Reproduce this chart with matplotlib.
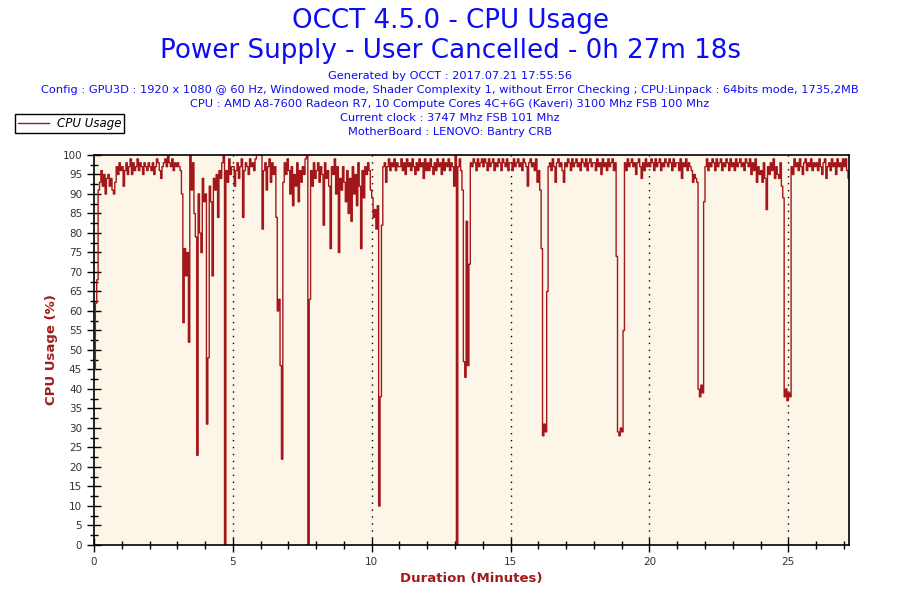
import matplotlib
matplotlib.use("Agg")
import matplotlib.pyplot as plt
from matplotlib.lines import Line2D
import numpy as np

# OCCT logs one sample per 3 s here -> 0.05 min between values
SAMPLE_MIN = 0.05

# CPU usage (%), one row per minute of the run (20 samples each)
usage_rows = [
    [45, 62, 68, 91, 93, 96, 92, 95, 90, 94, 95, 92, 94, 91, 90, 93, 97, 95, 98, 96],
    [97, 92, 96, 98, 95, 97, 99, 95, 98, 96, 97, 99, 96, 98, 97, 95, 98, 97, 96, 98],
    [97, 96, 98, 95, 97, 99, 98, 96, 94, 97, 98, 99, 97, 100, 98, 97, 99, 96, 98, 97],
    [98, 97, 96, 90, 57, 76, 69, 75, 52, 100, 91, 98, 85, 79, 23, 90, 80, 75, 94, 88],
    [90, 31, 48, 92, 88, 69, 94, 91, 95, 84, 96, 94, 98, 100, 0, 96, 93, 99, 95, 97],
    [97, 92, 96, 98, 94, 97, 99, 84, 96, 98, 97, 95, 99, 97, 98, 96, 99, 100, 100, 100],
    [100, 81, 96, 98, 91, 97, 99, 93, 98, 95, 97, 84, 60, 63, 46, 22, 93, 98, 95, 99],
    [96, 90, 97, 87, 95, 92, 98, 88, 96, 93, 97, 95, 99, 100, 0, 63, 96, 92, 98, 94],
    [96, 98, 93, 97, 95, 82, 98, 94, 96, 92, 76, 97, 95, 99, 90, 97, 75, 94, 91, 97],
    [93, 88, 96, 85, 94, 83, 97, 90, 95, 87, 98, 92, 76, 96, 89, 97, 95, 98, 96, 91],
    [89, 84, 86, 81, 87, 10, 38, 82, 97, 98, 93, 97, 99, 96, 98, 97, 99, 96, 98, 97],
    [97, 99, 96, 98, 95, 99, 97, 98, 96, 99, 97, 95, 98, 96, 99, 97, 98, 94, 99, 96],
    [98, 96, 99, 97, 95, 98, 96, 99, 97, 98, 95, 99, 96, 98, 97, 99, 96, 98, 97, 92],
    [100, 0, 97, 99, 96, 91, 47, 43, 83, 46, 72, 98, 97, 99, 98, 96, 99, 97, 98, 99],
    [97, 99, 98, 96, 99, 97, 98, 99, 96, 98, 97, 99, 98, 96, 99, 98, 97, 99, 96, 98],
    [98, 96, 99, 97, 98, 99, 97, 98, 96, 99, 98, 97, 92, 98, 99, 97, 98, 96, 99, 93],
    [96, 91, 76, 28, 31, 29, 65, 97, 98, 96, 99, 97, 93, 98, 99, 97, 98, 96, 93, 98],
    [97, 99, 98, 96, 99, 97, 98, 99, 97, 98, 96, 99, 98, 97, 99, 96, 98, 99, 97, 98],
    [98, 96, 99, 97, 98, 95, 99, 97, 98, 96, 99, 97, 98, 99, 96, 98, 74, 29, 28, 30],
    [29, 55, 98, 96, 99, 97, 98, 99, 97, 98, 95, 98, 99, 97, 94, 98, 96, 99, 97, 98],
    [97, 99, 98, 96, 99, 97, 98, 99, 96, 98, 97, 99, 98, 97, 99, 98, 96, 99, 97, 98],
    [98, 96, 99, 94, 98, 97, 99, 96, 98, 97, 96, 93, 95, 94, 93, 40, 38, 41, 39, 88],
    [97, 99, 96, 98, 97, 99, 98, 96, 99, 97, 98, 99, 96, 98, 97, 99, 98, 96, 99, 97],
    [98, 96, 99, 97, 98, 99, 97, 98, 96, 99, 98, 97, 99, 95, 98, 96, 99, 93, 97, 95],
    [96, 93, 98, 94, 86, 97, 95, 98, 96, 99, 94, 97, 95, 94, 98, 92, 89, 38, 40, 37],
    [39, 38, 97, 95, 99, 97, 98, 96, 99, 97, 95, 98, 99, 96, 98, 97, 99, 96, 98, 97],
    [98, 96, 99, 97, 95, 98, 99, 94, 97, 98, 96, 99, 97, 98, 95, 99, 97, 98, 96, 99],
    [97, 99, 96, 94, 94],
]

title_lines = ["OCCT 4.5.0 - CPU Usage", "Power Supply - User Cancelled - 0h 27m 18s"]
info_lines = [
    "Generated by OCCT : 2017.07.21 17:55:56",
    "Config : GPU3D : 1920 x 1080 @ 60 Hz, Windowed mode, Shader Complexity 1, "
    "without Error Checking ; CPU:Linpack : 64bits mode, 1735,2MB",
    "CPU : AMD A8-7600 Radeon R7, 10 Compute Cores 4C+6G (Kaveri) 3100 Mhz FSB 100 Mhz",
    "Current clock : 3747 Mhz FSB 101 Mhz",
    "MotherBoard : LENOVO: Bantry CRB",
]

usage = np.concatenate([np.array(r, dtype=float) for r in usage_rows])
minutes = np.arange(len(usage)) * SAMPLE_MIN

BLUE = "#0c0cf5"
RED = "#a3171a"
LABEL_RED = "#a01c1c"

fig = plt.figure(figsize=(9, 6), dpi=100)
ax = fig.add_axes([0.1044, 0.0917, 0.8394, 0.65])
ax.set_facecolor("#fdf6e8")

ax.plot(minutes, usage, drawstyle="steps-post", color=RED, lw=1.0)

ax.set_xlim(0, 27.2)
ax.set_ylim(0, 100)
ax.set_xticks(range(0, 30, 5))
ax.set_xticks(range(0, 28), minor=True)
ax.set_yticks(range(0, 101, 5))
ax.set_yticks(np.arange(0, 100, 2.5), minor=True)
ax.tick_params(which="major", direction="inout", length=10, width=1,
               labelsize=7.5, labelcolor="#333333")
ax.tick_params(which="minor", direction="inout", length=6, width=1)
ax.tick_params(axis="x", pad=4)
for s in ax.spines.values():
    s.set_linewidth(1.2)

for g in range(5, 30, 5):
    ax.axvline(g, color="black", lw=1, ls=(0, (1, 4)), zorder=0.5)

ax.set_xlabel("Duration (Minutes)", color=LABEL_RED, fontsize=9.5,
              fontweight="bold", labelpad=3)
ax.set_ylabel("CPU Usage (%)", color=LABEL_RED, fontsize=9.5,
              fontweight="bold", labelpad=3)

fig.text(0.5, 1 - 21 / 600, title_lines[0], ha="center", va="center",
         fontsize=18.8, color=BLUE)
fig.text(0.5, 1 - 51 / 600, title_lines[1], ha="center", va="center",
         fontsize=18.8, color=BLUE)
for i, line in enumerate(info_lines):
    fig.text(0.5, 1 - (76 + 14 * i) / 600, line, ha="center", va="center",
             fontsize=8.2, color=BLUE)

handle = Line2D([], [], color=RED, lw=1)
leg = fig.legend([handle], ["CPU Usage"], loc="upper left",
                 bbox_to_anchor=(15 / 900, 1 - 114 / 600),
                 frameon=True, fancybox=False, edgecolor="black",
                 framealpha=1, borderpad=0.25, handlelength=2.6,
                 handletextpad=0.7, borderaxespad=0,
                 prop={"style": "italic", "size": 8.5})
leg.get_frame().set_linewidth(1)

fig.savefig("out.png", dpi=100)
